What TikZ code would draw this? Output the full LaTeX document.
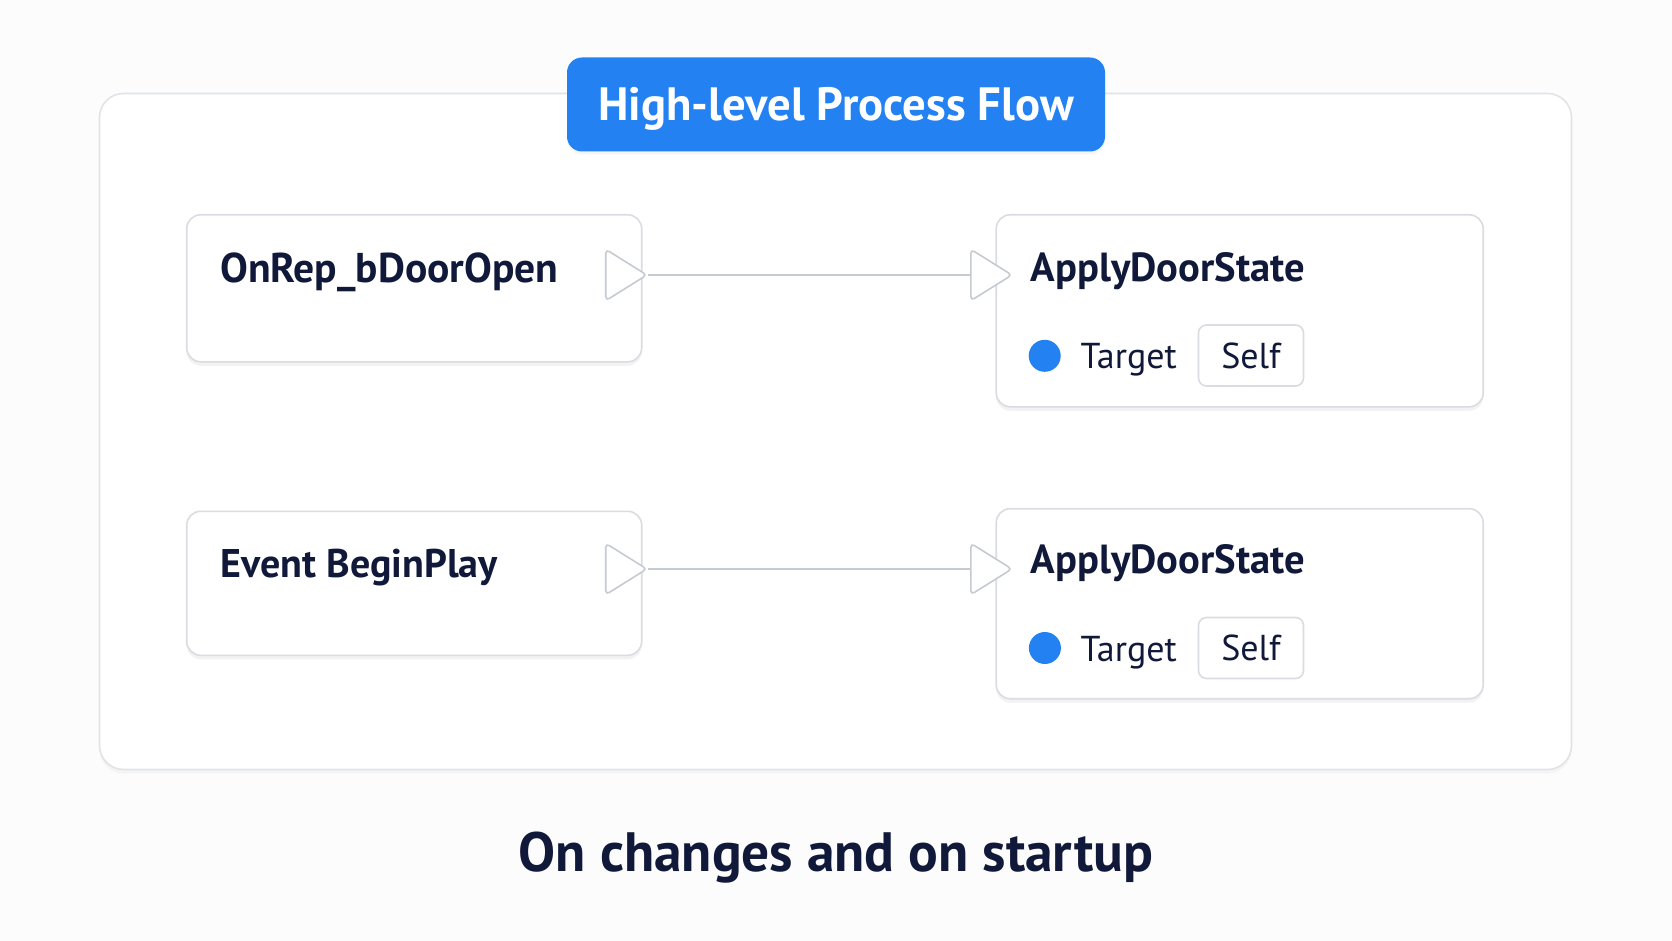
\documentclass[tikz,border=0pt]{standalone}
\usepackage{fontspec}
\setmainfont{PT Sans}
\usetikzlibrary{shapes.geometric,shadows}
\definecolor{navy}{HTML}{101939}
\definecolor{blu}{HTML}{2381F2}
\definecolor{framec}{HTML}{E1E3E7}
\definecolor{boxc}{HTML}{D9DCE1}
\definecolor{portc}{HTML}{C6CAD1}
\definecolor{bgc}{HTML}{FCFCFD}
\tikzset{
  frame/.style={draw=framec, line width=1.6pt, fill=white, rounded corners=24pt,
    drop shadow={opacity=0.06, shadow xshift=0pt, shadow yshift=-4pt}},
  titlebox/.style={fill=blu, rounded corners=15pt, text=white, inner sep=0pt,
    font=\bfseries\fontsize{46.7}{50}\selectfont, text height=33pt, text depth=0pt,
    drop shadow={opacity=0.08, shadow xshift=0pt, shadow yshift=-3pt}},
  nodebox/.style={draw=boxc, line width=1.6pt, fill=white, rounded corners=14pt,
    drop shadow={opacity=0.10, shadow xshift=0pt, shadow yshift=-4pt}},
  hdr/.style={text=navy, inner sep=0pt, anchor=base west, font=\bfseries\fontsize{40}{44}\selectfont},
  port/.style={isosceles triangle, isosceles triangle apex angle=64, shape border rotate=0,
    draw=portc, line width=1.6pt, fill=white, rounded corners=4pt, inner sep=0pt, minimum height=41pt},
  conn/.style={draw=portc, line width=1.6pt},
  pindot/.style={circle, fill=blu, inner sep=0pt, minimum size=32pt},
  pinlbl/.style={text=navy, inner sep=0pt, anchor=base west, font=\fontsize{36}{40}\selectfont},
  selfbox/.style={draw=boxc, line width=1.6pt, fill=white, rounded corners=8pt, inner sep=0pt,
    minimum width=105pt, minimum height=61pt, text=navy, font=\fontsize{36}{40}\selectfont,
    text height=25pt, text depth=0pt},
  caption/.style={text=navy, inner sep=0pt, anchor=base, font=\bfseries\fontsize{55.4}{60}\selectfont}
}
\begin{document}
\begin{tikzpicture}[x=1pt,y=-1pt]
\fill[bgc] (0,0) rectangle (1672,941);
\useasboundingbox (0,0) rectangle (1672,941);
\node[frame, minimum width=1472pt, minimum height=676pt] (frame) at (835.5,431.5) {};
\node[titlebox, minimum width=538pt, minimum height=94pt] (title) at (836,104.5) {High-level Process Flow};
% top row
\node[nodebox, minimum width=455pt, minimum height=147pt] (ev1) at (414.2,288.3) {};
\node[hdr, font=\bfseries\fontsize{41.6}{44}\selectfont] (ev1t) at (220,282.7) {OnRep\_bDoorOpen};
\node[nodebox, minimum width=487pt, minimum height=192pt] (ap1) at (1239.7,310.8) {};
\node[hdr, font=\bfseries\fontsize{40.6}{44}\selectfont] (ap1t) at (1030.5,281.7) {ApplyDoorState};
\node[port, anchor=apex] (out1) at (648.3,275) {};
\node[port, anchor=apex] (in1) at (1013.4,275) {};
\draw[conn] (out1.apex) -- (in1.lower side);
\node[pindot] (dot1) at (1044.7,355.8) {};
\node[pinlbl] (tg1) at (1080.5,368.3) {Target};
\node[selfbox] (s1) at (1251,355.5) {Self};
% bottom row
\node[nodebox, minimum width=455pt, minimum height=144pt] (ev2) at (414.2,583.3) {};
\node[hdr] (ev2t) at (220.4,577.3) {Event BeginPlay};
\node[nodebox, minimum width=487pt, minimum height=190pt] (ap2) at (1239.7,603.7) {};
\node[hdr, font=\bfseries\fontsize{40.6}{44}\selectfont] (ap2t) at (1030.5,573.5) {ApplyDoorState};
\node[port, anchor=apex] (out2) at (648.3,569) {};
\node[port, anchor=apex] (in2) at (1013.4,569) {};
\draw[conn] (out2.apex) -- (in2.lower side);
\node[pindot] (dot2) at (1044.9,648) {};
\node[pinlbl] (tg2) at (1080.5,661.7) {Target};
\node[selfbox] (s2) at (1251,648) {Self};
% caption
\node[caption] (cap) at (836,871.7) {On changes and on startup};
\end{tikzpicture}
\end{document}
